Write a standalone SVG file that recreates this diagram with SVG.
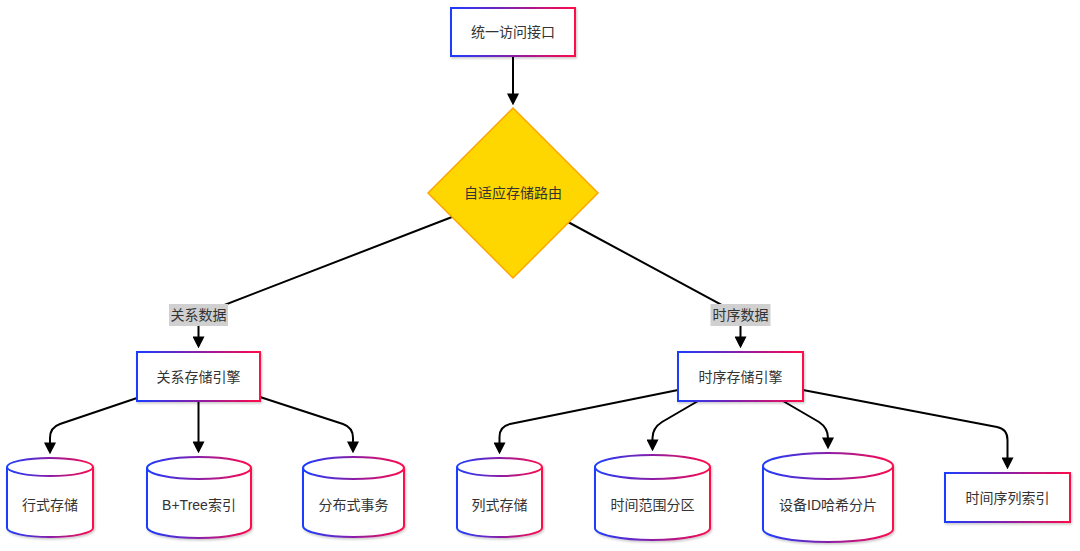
<svg xmlns="http://www.w3.org/2000/svg" width="1080" height="551" viewBox="0 0 1080 551">
<style>
text{font-family:"Liberation Sans","Noto Sans CJK SC",sans-serif;font-size:14px;fill:#333;text-anchor:middle;dominant-baseline:central}
.box{fill:#fff;stroke:url(#g);stroke-width:2;filter:url(#sh)}
.cyl{fill:#fff;stroke:url(#g);stroke-width:2;filter:url(#sh)}
.edge{fill:none;stroke:#000;stroke-width:2;marker-end:url(#arr)}
.lbl{fill:#d0d0d0}
</style>
<defs>
<linearGradient id="g" x1="0" y1="0" x2="1" y2="0">
<stop offset="0" stop-color="#1a3dff"/>
<stop offset="0.5" stop-color="#8a1ea6"/>
<stop offset="1" stop-color="#ff0a4a"/>
</linearGradient>
<filter id="sh" x="-10%" y="-10%" width="130%" height="130%">
<feDropShadow dx="1" dy="1.5" stdDeviation="1.2" flood-color="#000" flood-opacity="0.22"/>
</filter>
<marker id="arr" markerUnits="userSpaceOnUse" markerWidth="12" markerHeight="12" viewBox="0 0 10 10" refX="8" refY="5" orient="auto">
<path d="M0,0 L10,5 L0,10 z" fill="#000"/>
</marker>
</defs>
<g id="connectors">
<path class="edge" d="M513,56 L513,103"/>
<path class="edge" d="M452,217 L198.5,315 L198.5,346"/>
<path class="edge" d="M568,222 L740.5,315 L740.5,346"/>
<path class="edge" d="M137,398 L60,424 Q50,427.5 50,438 L50,452"/>
<path class="edge" d="M198.5,401 L198.5,451"/>
<path class="edge" d="M260,397 L343,424 Q353,427.5 353,438 L353,451"/>
<path class="edge" d="M678,390 L510,424 Q499.5,426.5 499.5,437 L499.5,452"/>
<path class="edge" d="M698,401 L662,422 Q652.5,428 652.5,438 L652.5,449"/>
<path class="edge" d="M783,401 L819,422 Q828,428 828,438 L828,447"/>
<path class="edge" d="M803,390 L997,427 Q1007.5,429 1007.5,440 L1007.5,467"/>
<g id="edge-labels">
<rect class="lbl" x="169" y="304" width="59" height="22"/>
<text x="198.5" y="315">关系数据</text>
<rect class="lbl" x="710.5" y="304" width="60" height="22"/>
<text x="740.5" y="315">时序数据</text>
</g>
</g>
<g id="n-api">
<rect class="box" x="451" y="8" width="124" height="48"/>
<text x="513" y="32">统一访问接口</text>
</g>
<g id="n-router">
<polygon points="513,108 598,193 513,278 428,193" fill="#FFD700" stroke="#FFA500" stroke-width="1.5"/>
<text x="513" y="193">自适应存储路由</text>
</g>
<g id="n-rel">
<rect class="box" x="137" y="352" width="123" height="49"/>
<text x="198.5" y="376.5">关系存储引擎</text>
</g>
<g id="n-ts">
<rect class="box" x="678" y="352" width="125" height="49"/>
<text x="740.5" y="376.5">时序存储引擎</text>
</g>
<g id="n-row">
<path class="cyl" d="M7,467 a43,9 0 0 0 86,0 a43,9 0 0 0 -86,0 l0,61 a43,9 0 0 0 86,0 l0,-61"/>
<text x="50" y="505">行式存储</text>
</g>
<g id="n-btree">
<path class="cyl" d="M147,468 a52,11 0 0 0 104,0 a52,11 0 0 0 -104,0 l0,59 a52,11 0 0 0 104,0 l0,-59"/>
<text x="199" y="505">B+Tree索引</text>
</g>
<g id="n-dist">
<path class="cyl" d="M303,468 a50.5,11 0 0 0 101,0 a50.5,11 0 0 0 -101,0 l0,58 a50.5,11 0 0 0 101,0 l0,-58"/>
<text x="353.5" y="505">分布式事务</text>
</g>
<g id="n-col">
<path class="cyl" d="M457,467 a42.5,9 0 0 0 85,0 a42.5,9 0 0 0 -85,0 l0,61 a42.5,9 0 0 0 85,0 l0,-61"/>
<text x="499.5" y="505">列式存储</text>
</g>
<g id="n-range">
<path class="cyl" d="M595,467 a57.5,12 0 0 0 115,0 a57.5,12 0 0 0 -115,0 l0,61 a57.5,12 0 0 0 115,0 l0,-61"/>
<text x="652.5" y="505">时间范围分区</text>
</g>
<g id="n-hash">
<path class="cyl" d="M763,466 a65,13 0 0 0 130,0 a65,13 0 0 0 -130,0 l0,63 a65,13 0 0 0 130,0 l0,-63"/>
<text x="828" y="505">设备ID哈希分片</text>
</g>
<g id="n-tsidx">
<rect class="box" x="945" y="473" width="125" height="49"/>
<text x="1007.5" y="497.5">时间序列索引</text>
</g>
</svg>
